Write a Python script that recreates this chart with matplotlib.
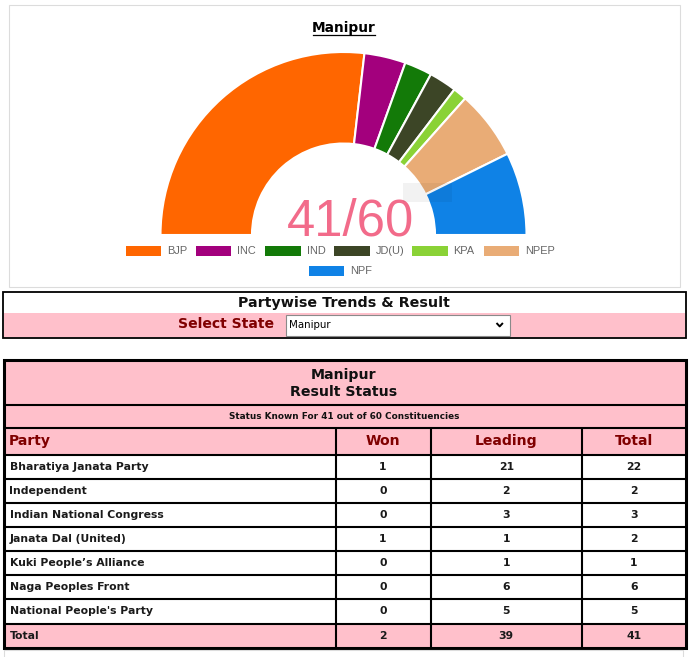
import matplotlib.pyplot as plt
from matplotlib.patches import Rectangle

# ---- data ----
state = 'Manipur'
total_seats = 60

chart_labels = ['BJP', 'INC', 'IND', 'JD(U)', 'KPA', 'NPEP', 'NPF']
chart_seats = [22, 3, 2, 2, 1, 5, 6]
chart_colors = ['#ff6600', '#a3007d', '#137a08', '#3c4526', '#8ad236', '#e9ac76', '#0f82e6']

parties = ['Bharatiya Janata Party', 'Independent', 'Indian National Congress',
           'Janata Dal (United)', 'Kuki People\u2019s Alliance', 'Naga Peoples Front',
           "National People's Party"]
won = [1, 0, 0, 1, 0, 0, 0]
leading = [21, 2, 3, 1, 1, 6, 5]
totals = [22, 2, 3, 2, 1, 6, 5]

PINK = '#ffc0cb'
MAROON = '#800000'
BOLD = dict(family='DejaVu Sans', fontweight='bold')

W, H = 690, 657
fig = plt.figure(figsize=(W / 100, H / 100), dpi=100)
fig.patch.set_facecolor('white')
ax = fig.add_axes([0, 0, 1, 1])
ax.set_xlim(0, W)
ax.set_ylim(H, 0)
ax.axis('off')

# ---- chart panel ----
ax.add_patch(Rectangle((8.5, 4.5), 671, 282, fill=False, ec='#dcdcdc', lw=0.8))
ax.text(344, 32, state, ha='center', va='baseline', fontsize=9.9, color='black', **BOLD)
ax.plot([313, 375], [34.6, 34.6], color='black', lw=0.9)

cx, cy, R = 343.5, 235, 183
pax = fig.add_axes([(cx - R) / W, (H - cy - R) / H, 2 * R / W, 2 * R / H])
known = sum(chart_seats)
wedges, _ = pax.pie(chart_seats + [known], colors=chart_colors + ['white'],
                    startangle=180, counterclock=False, radius=1,
                    wedgeprops=dict(width=0.5, edgecolor='white', linewidth=1.5))
wedges[-1].set_visible(False)
pax.set_xlim(-1, 1)
pax.set_ylim(-1, 1)
pax.set_aspect('equal')
pax.axis('off')
pax.text(0.04, 0, f'{known}/{total_seats}', ha='center', va='baseline',
         fontsize=36.6, color='#f26b8a', family='Liberation Sans')
# faint tooltip ghost
pax.add_patch(Rectangle((0.325, 0.18), 0.268, 0.104, color='black', alpha=0.05, lw=0, zorder=5))

# legend
legend_x = [125.5, 195.5, 265, 334, 412, 483.5, 308.5]
legend_y = [251, 251, 251, 251, 251, 251, 271]
for lab, col, lx, ly in zip(chart_labels, chart_colors, legend_x, legend_y):
    ax.add_patch(Rectangle((lx, ly - 5.2), 35.5, 10.5, fc=col, ec='none'))
    ax.text(lx + 41.5, ly, lab, ha='left', va='center', fontsize=7.9,
            color='#666666', family='Liberation Sans')

# ---- partywise box ----
ax.add_patch(Rectangle((4, 313.3), 681, 24, fc=PINK, ec='none'))
ax.add_patch(Rectangle((2.5, 291.5), 683.5, 46.5, fill=False, ec='black', lw=1.3))
ax.text(344, 303, 'Partywise Trends & Result', ha='center', va='center',
        fontsize=10.27, color='#111111', **BOLD)
ax.text(178.3, 324, 'Select State', ha='left', va='center', fontsize=10.06, color=MAROON, **BOLD)
ax.add_patch(Rectangle((285.5, 314.7), 224, 21.6, fc='white', ec='#8a8a8a', lw=0.8))
ax.text(289.5, 325, state, ha='left', va='center', fontsize=7.4, color='black', family='DejaVu Sans')
ax.plot([496.5, 499.7, 502.9], [323, 326.4, 323], color='black', lw=1.4, solid_capstyle='butt')

# ---- result table ----
left, right = 4, 686
col_x = [left, 335.5, 430.5, 582, right]
top = 360
title_bot, status_bot, head_bot = 404.7, 427.5, 454.5
row_h = 24.15
n = len(parties)
bottom = head_bot + row_h * (n + 1)

ax.add_patch(Rectangle((left, top), right - left, head_bot - top, fc=PINK, ec='none'))
ax.add_patch(Rectangle((left, head_bot + row_h * n), right - left, row_h, fc=PINK, ec='none'))

ax.text(344, 375.3, state, ha='center', va='center', fontsize=10.2, color='#111111', **BOLD)
ax.text(344, 392, 'Result Status', ha='center', va='center', fontsize=10.2, color='#111111', **BOLD)
ax.text(344, 416.3, f'Status Known For {known} out of {total_seats} Constituencies',
        ha='center', va='center', fontsize=6.42, color='#111111', **BOLD)

heads = ['Party', 'Won', 'Leading', 'Total']
hy = (status_bot + head_bot) / 2
ax.text(8.5, hy, heads[0], ha='left', va='center', fontsize=10.1, color=MAROON, **BOLD)
for j in range(1, 4):
    ax.text((col_x[j] + col_x[j + 1]) / 2, hy, heads[j], ha='center', va='center',
            fontsize=10.1, color=MAROON, **BOLD)

rows = [(p, w, l, t) for p, w, l, t in zip(parties, won, leading, totals)]
rows.append(('Total', sum(won), sum(leading), sum(totals)))
for i, (p, w, l, t) in enumerate(rows):
    ry = head_bot + row_h * (i + 0.5)
    ax.text(9.5, ry, p, ha='left', va='center', fontsize=7.83, color='#1a1a1a', **BOLD)
    for j, v in enumerate([w, l, t], start=1):
        ax.text((col_x[j] + col_x[j + 1]) / 2, ry, str(v), ha='center', va='center',
                fontsize=7.83, color='#1a1a1a', **BOLD)

lw_in = 1.5
for yl in [title_bot, status_bot] + [head_bot + row_h * k for k in range(n + 1)]:
    ax.plot([left, right], [yl, yl], color='black', lw=lw_in, solid_capstyle='butt')
for xl in col_x[1:-1]:
    ax.plot([xl, xl], [status_bot, bottom], color='black', lw=lw_in, solid_capstyle='butt')
ax.add_patch(Rectangle((left, top), right - left, bottom - top, fill=False, ec='black', lw=2.2))

# next panel edge
ax.plot([3.5, 3.5, 683, 683], [H + 2, 649.5, 649.5, H + 2], color='#dcdcdc', lw=0.8)

fig.savefig('out.png', dpi=100, facecolor='white')
